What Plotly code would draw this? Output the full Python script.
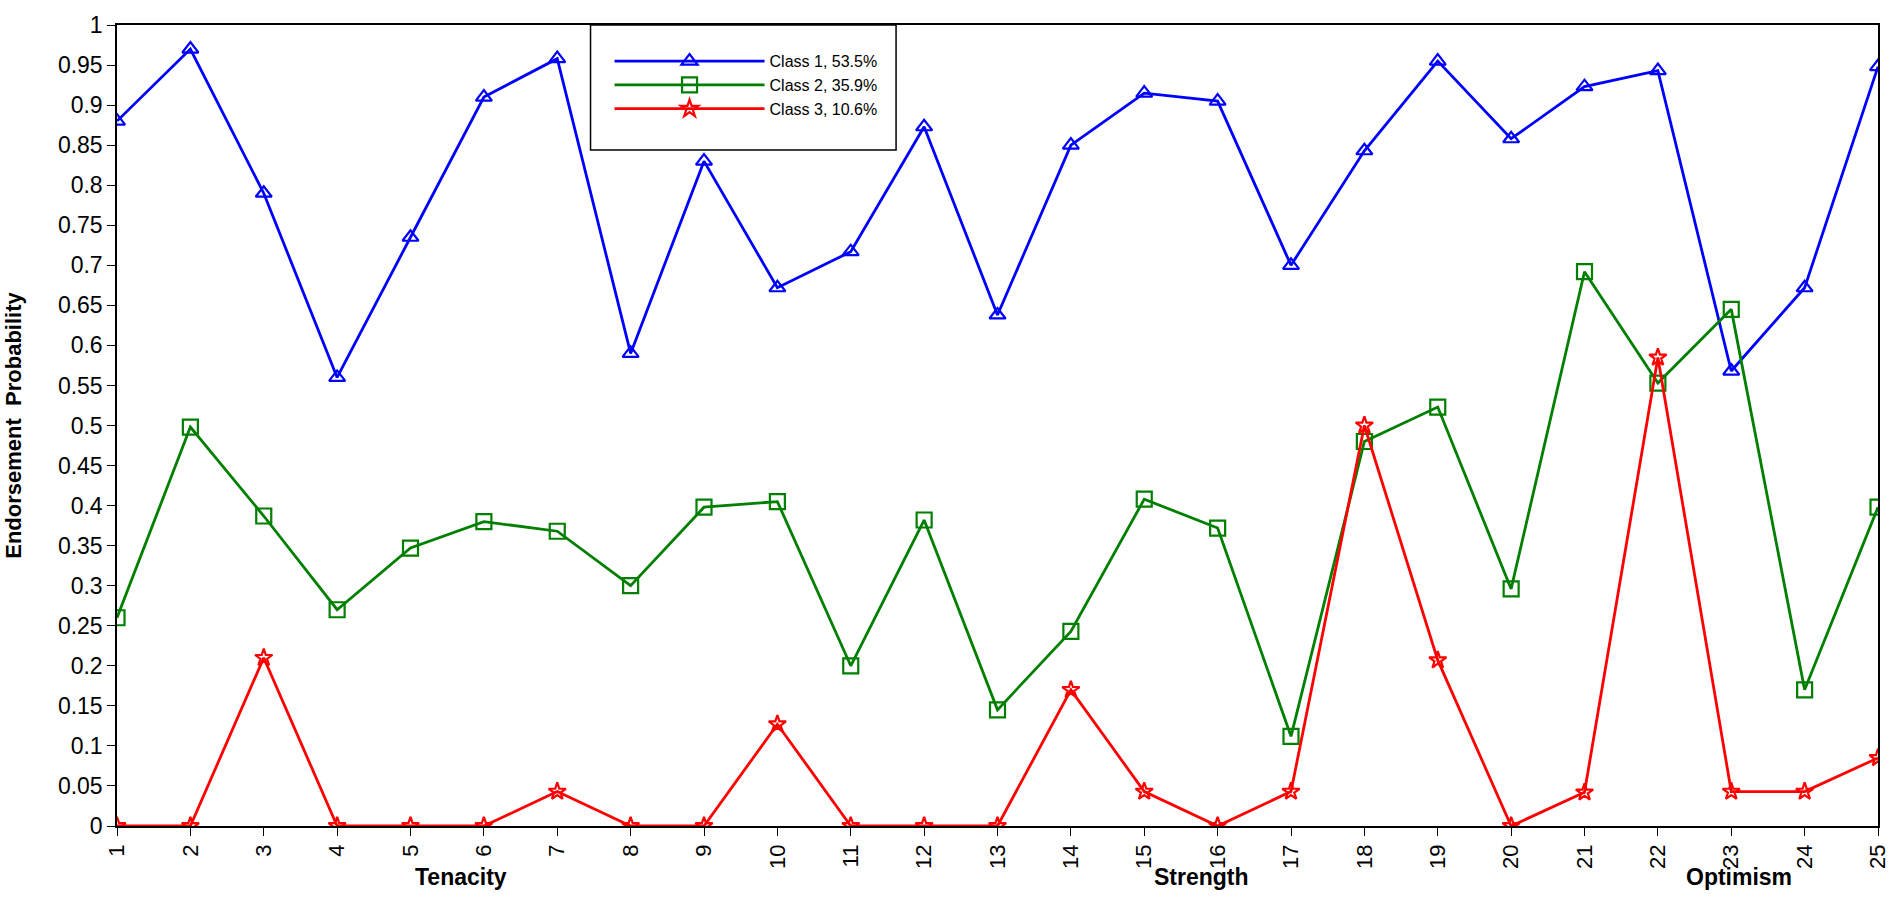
import plotly.graph_objects as go

# Itens 1..25 e probabilidades por classe
items = list(range(1, 26))

class1 = [0.88, 0.97, 0.79, 0.56, 0.735, 0.91, 0.958, 0.59, 0.83, 0.672,
          0.717, 0.873, 0.638, 0.85, 0.915, 0.905, 0.70, 0.843, 0.955, 0.858,
          0.923, 0.943, 0.568, 0.672, 0.948]
class2 = [0.26, 0.498, 0.387, 0.27, 0.347, 0.38, 0.368, 0.30, 0.398, 0.405,
          0.20, 0.382, 0.145, 0.243, 0.408, 0.372, 0.112, 0.48, 0.523, 0.296,
          0.692, 0.553, 0.645, 0.17, 0.398]
class3 = [0.0, 0.0, 0.21, 0.0, 0.0, 0.0, 0.043, 0.0, 0.0, 0.127,
          0.0, 0.0, 0.0, 0.17, 0.043, 0.0, 0.043, 0.50, 0.207, 0.0,
          0.042, 0.585, 0.043, 0.043, 0.085]

names = ["Class 1, 53.5%", "Class 2, 35.9%", "Class 3, 10.6%"]
colors = ["#0000FF", "#007F00", "#FF0000"]
symbols = ["triangle-up-open", "square-open", "star-open"]
sizes = [14, 15, 13]

# Rotulos dos grupos de itens
groups = ["Tenacity", "Strength", "Optimism"]
group_pos = [5.69, 15.78, 23.1]

font = "Arial, Liberation Sans, sans-serif"

fig = go.Figure()
for ys, name, color, sym, sz in zip([class1, class2, class3], names, colors, symbols, sizes):
    fig.add_trace(go.Scatter(
        x=items, y=ys, name=name, mode="lines+markers",
        line=dict(color=color, width=2.8),
        marker=dict(symbol=sym, size=sz, color=color, line=dict(color=color, width=2.2)),
    ))

for g, p in zip(groups, group_pos):
    fig.add_annotation(x=p, xref="x", y=-0.083, yref="paper", text="<b>%s</b>" % g,
                       showarrow=False, font=dict(size=23, color="black", family=font))

# moldura da legenda
fig.add_shape(type="rect", xref="paper", yref="paper",
              x0=0.2689, x1=0.4424, y0=0.844, y1=1.0,
              line=dict(color="black", width=1.5), fillcolor="white", layer="above")

fig.update_layout(
    width=1902, height=915,
    margin=dict(l=117, r=15, t=17, b=89),
    plot_bgcolor="white", paper_bgcolor="white",
    font=dict(family=font, color="black"),
    showlegend=True,
    legend=dict(
        x=0.2797, xanchor="left", y=0.976, yanchor="top",
        bgcolor="rgba(0,0,0,0)", borderwidth=0,
        font=dict(size=16, family=font), itemwidth=150,
    ),
)
fig.update_xaxes(
    range=[1, 25], tickvals=items, tickangle=-90,
    showline=True, linecolor="black", linewidth=1.5, mirror=True,
    ticks="outside", ticklen=8, tickcolor="black",
    showgrid=False, zeroline=False, tickfont=dict(size=22),
)
fig.update_yaxes(
    range=[0, 1], dtick=0.05, tick0=0,
    showline=True, linecolor="black", linewidth=1.5, mirror=True,
    ticks="outside", ticklen=8, tickcolor="black",
    showgrid=False, zeroline=False, tickfont=dict(size=23),
    title=dict(text="<b>Endorsement  Probability</b>", font=dict(size=22), standoff=30),
)

# tira a margem padrao do body para a figura ocupar a janela inteira
fig.write_html("out.html", config={"displayModeBar": False},
               post_script="document.body.style.margin='0px';")
